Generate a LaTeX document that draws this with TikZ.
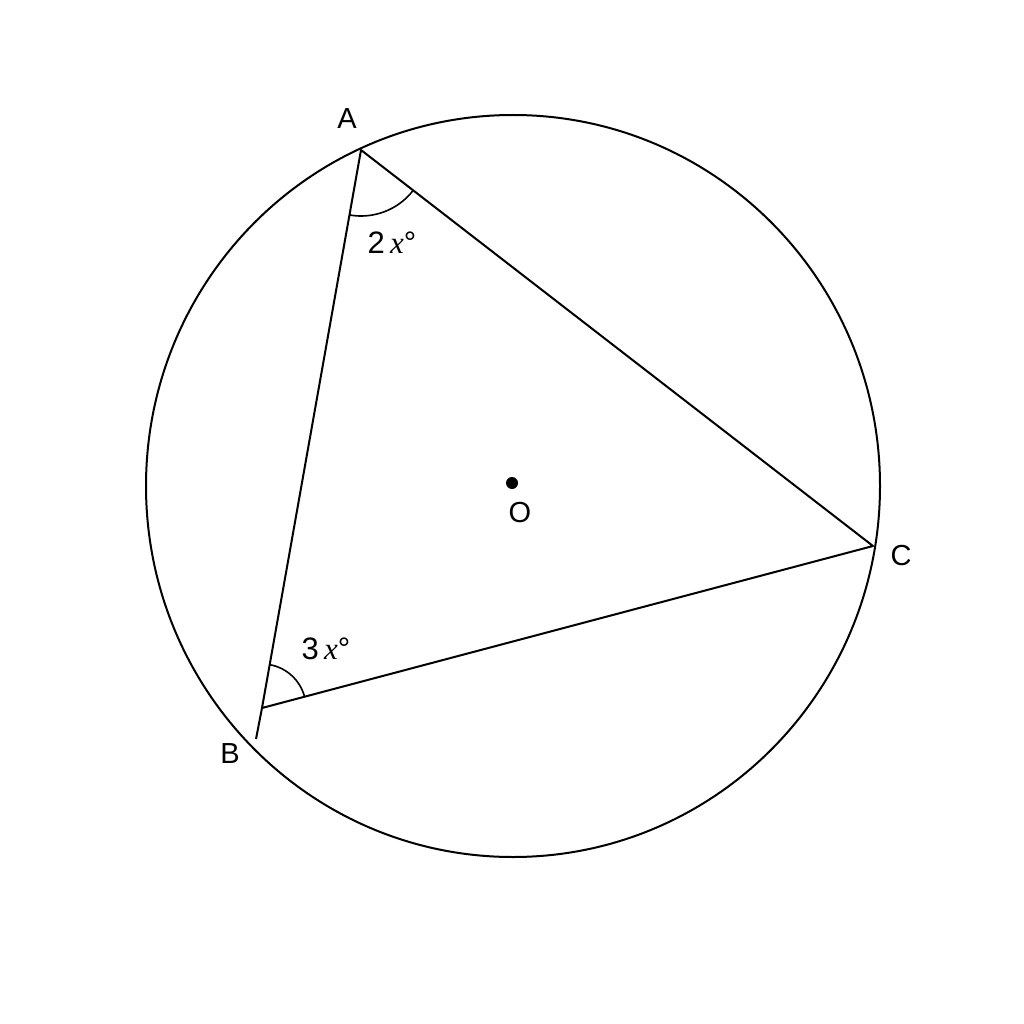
\documentclass[tikz,border=0pt]{standalone}
\usepackage{fontspec}
\setmainfont{Liberation Sans}
\newfontfamily\xfont{Liberation Serif}
\usetikzlibrary{angles}
\newcommand{\vx}{{\xfont\itshape x}}
\begin{document}
\begin{tikzpicture}[x=1pt,y=-1pt,
  edge/.style={line width=2pt,line join=round},
  lbl/.style={font=\fontsize{29}{32}\selectfont,inner sep=0pt},
  anglbl/.style={font=\fontsize{31}{34}\selectfont,inner sep=0pt}]
\useasboundingbox[fill=white] (0,0) rectangle (1024,1024);
\draw[edge] (513,486) ellipse[x radius=367, y radius=371];
\coordinate (A) at (361,150);
\coordinate (B) at (262,708);
\coordinate (C) at (873,546);
\coordinate (Bx) at (256,739);
\coordinate (O) at (512,483);
\draw[edge] (A) -- (B) -- (C) -- cycle;
\draw[edge] (B) -- (Bx);
\fill (O) circle[radius=6];
\pic[draw, line width=1.6pt, angle radius=66pt] {angle=B--A--C};
\pic[draw, line width=1.6pt, angle radius=44pt] {angle=C--B--A};
\node[lbl] (la) at (347,119) {A};
\node[lbl] (lb) at (230,754) {B};
\node[lbl] (lc) at (901,556) {C};
\node[lbl] (lo) at (520,513) {O};
\node[anglbl] (a2) at (392,243) {2\,\vx°};
\node[anglbl] (a3) at (326,649) {3\,\vx°};
\end{tikzpicture}
\end{document}
